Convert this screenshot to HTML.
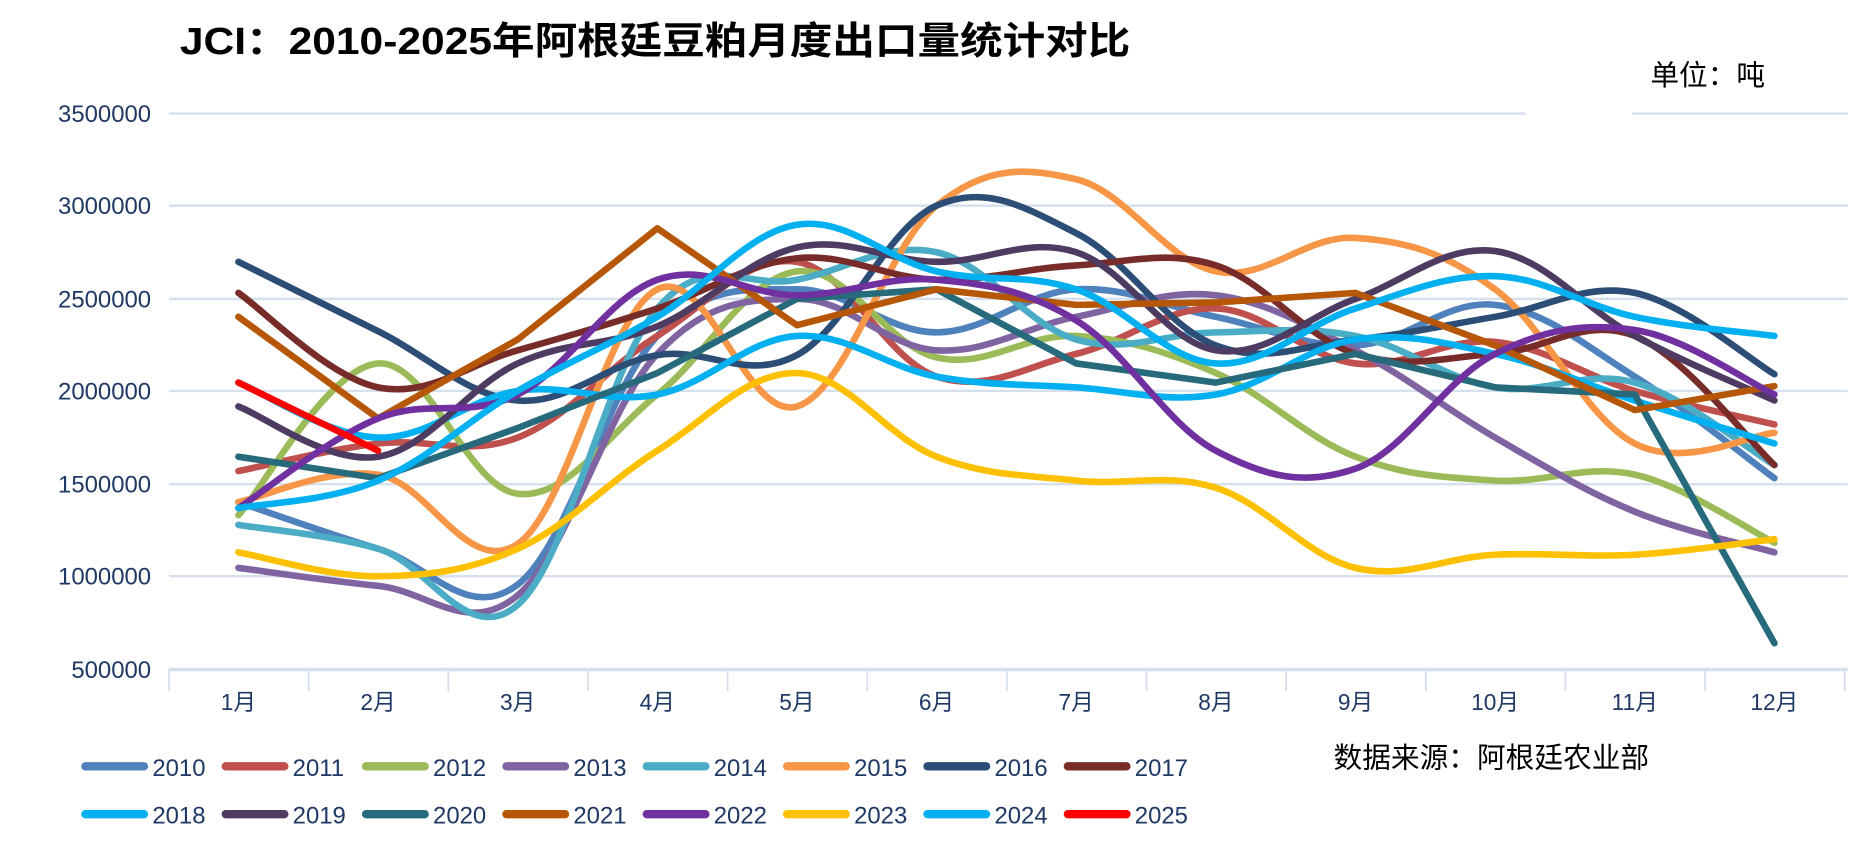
<!DOCTYPE html>
<html><head><meta charset="utf-8"><style>
html,body{margin:0;padding:0;background:#fff;}
svg{display:block;}
text{font-family:"Liberation Sans","Noto Sans CJK SC",sans-serif;}
</style></head><body>
<svg id="s" width="1866" height="856" viewBox="0 0 1560 716" xmlns="http://www.w3.org/2000/svg">
<rect width="1560" height="716" fill="#fff"/>
<text x="150" y="45" font-size="32" font-weight="bold" fill="#000" textLength="795" lengthAdjust="spacingAndGlyphs">JCI：2010-2025年阿根廷豆粕月度出口量统计对比</text>
<text x="1380" y="71" font-size="24" fill="#000" font-family="Noto Serif CJK SC,serif">单位：吨</text>
<g stroke="#d6e0ec" stroke-width="2">
<line x1="141" y1="95" x2="1276" y2="95"/><line x1="1365" y1="95" x2="1545" y2="95"/>
<line x1="141" y1="172" x2="1545" y2="172"/>
<line x1="141" y1="250" x2="1545" y2="250"/>
<line x1="141" y1="327" x2="1545" y2="327"/>
<line x1="141" y1="405" x2="1545" y2="405"/>
<line x1="141" y1="482" x2="1545" y2="482"/>
<line x1="141" y1="560" x2="1545" y2="560" stroke-width="3"/>
</g>
<g id="ticks" stroke="#d6e0ec" stroke-width="1.5"></g>
<g font-size="20" fill="#1f3864" text-anchor="end">
<text x="126" y="102">3500000</text><text x="126" y="179">3000000</text><text x="126" y="257">2500000</text>
<text x="126" y="334">2000000</text><text x="126" y="412">1500000</text><text x="126" y="489">1000000</text><text x="126" y="567">500000</text>
</g>
<g id="xl" font-size="19" fill="#1f3864" text-anchor="middle"></g>
<g id="lines" fill="none" stroke-width="5.5" stroke-linecap="round" stroke-linejoin="round"></g>
<g id="leg" font-size="20" fill="#1f3864"></g>
<text x="1115" y="642" font-size="24" fill="#000">数据来源：阿根廷农业部</text>
</svg>
<script>
var NS="http://www.w3.org/2000/svg";
function el(t,a,p,txt){var e=document.createElementNS(NS,t);for(var k in a)e.setAttribute(k,a[k]);if(txt)e.textContent=txt;document.getElementById(p).appendChild(e);return e;}
var X=[];for(var i=0;i<12;i++)X.push(199+i*116.8);
for(var i=0;i<=12;i++){var x=141+i*116.8;el("line",{x1:x,y1:560,x2:x,y2:578},"ticks");}
for(var i=0;i<12;i++)el("text",{x:X[i],y:594},"xl",(i+1)+"月");
var S=[
["2010","#4f81bd",[420,459,489,281,242,278,242,265,289,255,315,400]],
["2011","#c0504d",[394,371,366,281,219,315,296,258,304,286,327,355]],
["2012","#9bbb59",[431,304,413,330,227,299,281,312,382,402,397,454]],
["2013","#8064a2",[475,490,498,296,250,293,265,247,293,366,428,462]],
["2014","#4bacc6",[439,459,506,258,234,211,284,278,281,324,320,389]],
["2015","#f79646",[420,397,455,242,340,172,150,227,199,242,371,362]],
["2016","#2c4d75",[219,277,335,297,297,172,195,289,284,265,245,313]],
["2017","#772c2a",[245,324,293,258,216,234,222,222,296,296,281,389]],
["2018","#00b0f0",[320,366,327,330,281,315,324,330,284,296,335,371]],
["2019","#4d3b62",[340,382,304,273,207,219,211,293,250,210,281,335]],
["2020","#276a7c",[382,400,358,312,250,242,304,320,296,324,330,538],1],
["2021","#b65708",[265,350,284,191,272,242,255,253,245,289,343,323],1],
["2022","#7030a0",[425,350,330,234,247,234,268,377,392,296,276,330]],
["2023","#ffc000",[462,482,459,377,312,382,402,408,475,464,464,451]],
["2024","#00b0f0",[425,402,327,265,188,227,242,304,258,231,265,281]],
["2025","#ff0000",[320,377]]
];
function path(Y,straight){var d="M"+X[0]+","+Y[0];var n=Y.length;
for(var i=0;i<n-1;i++){if(straight){d+=" L"+X[i+1]+","+Y[i+1];continue;}
var x0=X[Math.max(i-1,0)],y0=Y[Math.max(i-1,0)],x1=X[i],y1=Y[i],x2=X[i+1],y2=Y[i+1],x3=X[Math.min(i+2,n-1)],y3=Y[Math.min(i+2,n-1)];
var t=0.18;d+=" C"+(x1+(x2-x0)*t)+","+(y1+(y2-y0)*t)+" "+(x2-(x3-x1)*t)+","+(y2-(y3-y1)*t)+" "+x2+","+y2;}
return d;}
S.forEach(function(s){el("path",{d:path(s[2],s[3]),stroke:s[1]},"lines");});
S.forEach(function(s,i){var r=Math.floor(i/8),c=i%8;var x=68+c*117.4,y=642+r*40;
el("line",{x1:x+3,y1:y-1,x2:x+52,y2:y-1,stroke:s[1],"stroke-width":7,"stroke-linecap":"round"},"leg");
el("text",{x:x+59,y:y+7},"leg",s[0]);});
</script>
</body></html>
